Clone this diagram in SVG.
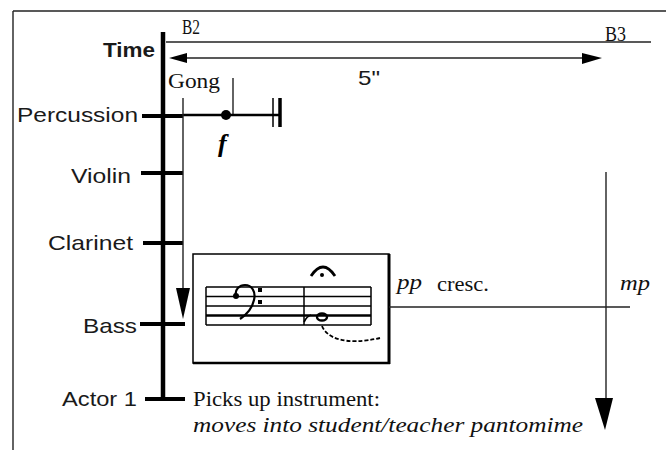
<svg xmlns="http://www.w3.org/2000/svg" width="666" height="450" viewBox="0 0 666 450">
<style>
.lab{font-family:"Liberation Sans",Arial,sans-serif;font-size:21px;fill:#1a1a1a}
.ser{font-family:"Liberation Serif","Times New Roman",serif;font-size:20px;fill:#111}
.it{font-family:"Liberation Serif","Times New Roman",serif;font-style:italic;font-size:20px;fill:#111}
.thin{stroke:#222;stroke-width:1.4;fill:none}
.tick{stroke:#000;stroke-width:4;fill:none}
</style>
<rect width="666" height="450" fill="#fff"/>
<g id="frame">
<line x1="13" y1="11" x2="666" y2="11" stroke="#222" stroke-width="1.4"/>
<line x1="13" y1="11" x2="13" y2="450" stroke="#222" stroke-width="1.4"/>
</g>
<g id="time-axis">
<line x1="163" y1="32" x2="163" y2="401" stroke="#000" stroke-width="4.5"/>
<text class="lab" x="155" y="57" text-anchor="end" font-weight="bold" font-size="20" textLength="52" lengthAdjust="spacingAndGlyphs">Time</text>
</g>
<g id="percussion">
<line class="tick" x1="142" y1="116" x2="183" y2="116"/>
<text class="lab" x="138" y="122" text-anchor="end" textLength="121" lengthAdjust="spacingAndGlyphs">Percussion</text>
</g>
<g id="violin">
<line class="tick" x1="141" y1="173" x2="183" y2="173"/>
<text class="lab" x="131" y="183" text-anchor="end" textLength="60" lengthAdjust="spacingAndGlyphs">Violin</text>
</g>
<g id="clarinet">
<line class="tick" x1="143" y1="243" x2="183" y2="243"/>
<text class="lab" x="133" y="250" text-anchor="end" textLength="85" lengthAdjust="spacingAndGlyphs">Clarinet</text>
</g>
<g id="bass">
<line class="tick" x1="140" y1="324" x2="185" y2="324"/>
<text class="lab" x="137" y="333" text-anchor="end" textLength="54" lengthAdjust="spacingAndGlyphs">Bass</text>
</g>
<g id="actor1">
<line class="tick" x1="145" y1="399" x2="185" y2="399"/>
<text class="lab" x="137" y="406" text-anchor="end" textLength="75" lengthAdjust="spacingAndGlyphs">Actor 1</text>
<text class="ser" x="193" y="406" textLength="187" lengthAdjust="spacingAndGlyphs">Picks up instrument:</text>
<text class="it" x="193" y="432" textLength="390" lengthAdjust="spacingAndGlyphs">moves into student/teacher pantomime</text>
</g>
<g id="markers">
<text class="ser" x="182" y="34" font-size="16" textLength="18" lengthAdjust="spacingAndGlyphs">B2</text>
<text class="ser" x="605" y="41" font-size="18" textLength="21" lengthAdjust="spacingAndGlyphs">B3</text>
<text class="lab" x="358" y="85" font-size="22" textLength="22" lengthAdjust="spacingAndGlyphs">5"</text>
</g>
<g id="gong">
<text class="ser" x="168" y="88" font-size="20" textLength="52" lengthAdjust="spacingAndGlyphs">Gong</text>
<line class="thin" x1="233" y1="78" x2="233" y2="114"/>
<line x1="183" y1="115" x2="280" y2="115" stroke="#000" stroke-width="2.5"/>
<circle cx="226" cy="115" r="5" fill="#000"/>
<line x1="273" y1="98" x2="273" y2="127" stroke="#000" stroke-width="1.5"/>
<line x1="280" y1="98" x2="280" y2="127" stroke="#000" stroke-width="3.5"/>
<text x="218" y="152" font-family="'Liberation Serif','Times New Roman',serif" font-style="italic" font-weight="bold" font-size="26" fill="#000">f</text>
</g>
<g id="bass-excerpt">
<rect x="193" y="254" width="196" height="109" fill="none" stroke="#000" stroke-width="1.5"/>
<line x1="389" y1="254" x2="389" y2="364" stroke="#000" stroke-width="3"/>
<line x1="193" y1="363" x2="390" y2="363" stroke="#000" stroke-width="2.5"/>
<g stroke="#000" stroke-width="1.5">
<line x1="206" y1="287" x2="371" y2="287"/>
<line x1="206" y1="296.5" x2="371" y2="296.5"/>
<line x1="206" y1="306" x2="371" y2="306"/>
<line x1="206" y1="315.5" x2="371" y2="315.5" stroke-width="2.4"/>
<line x1="206" y1="325" x2="371" y2="325"/>
<line x1="206" y1="287" x2="206" y2="325"/>
<line x1="371" y1="287" x2="371" y2="325"/>
<line x1="304" y1="287" x2="304" y2="325"/>
</g>
<path d="M236,297 C234,289 240,285 245,285 C252,285 256,292 254,300 C252,309 246,315 240,319" fill="none" stroke="#000" stroke-width="2.2"/>
<circle cx="236" cy="296" r="3" fill="#000"/>
<rect x="258" y="288" width="4" height="4" fill="#000"/>
<rect x="258" y="300" width="4" height="4" fill="#000"/>
<path d="M311,276 Q323,258 335,276" fill="none" stroke="#000" stroke-width="2.8"/>
<circle cx="322" cy="275" r="2" fill="#000"/>
<ellipse cx="322" cy="317" rx="5" ry="3.5" fill="none" stroke="#000" stroke-width="2.4"/>
<path d="M304,322 Q307,316 311,315" fill="none" stroke="#000" stroke-width="1.8"/>
<path d="M322,326 C327,338 345,346 380,338" fill="none" stroke="#000" stroke-width="1.8" stroke-dasharray="4,2"/>
</g>
<g id="dynamics">
<text class="it" x="397" y="289" textLength="25" lengthAdjust="spacingAndGlyphs">pp</text>
<text class="ser" x="437" y="291" textLength="52" lengthAdjust="spacingAndGlyphs">cresc.</text>
<text class="it" x="620" y="290" textLength="30" lengthAdjust="spacingAndGlyphs">mp</text>
</g>
<g id="connectors">
<line class="thin" x1="166" y1="42" x2="651" y2="42"/>
<line class="thin" x1="180" y1="58" x2="590" y2="58"/>
<polygon points="169,58 187,53 187,63" fill="#000"/>
<polygon points="602,58 582,53 582,64" fill="#000"/>
<line class="thin" x1="183" y1="98" x2="183" y2="292"/>
<polygon points="176,288 190,288 183,319" fill="#000"/>
<line class="thin" x1="389" y1="307" x2="630" y2="307"/>
<line class="thin" x1="606" y1="172" x2="606" y2="400"/>
<polygon points="595,398 613,398 605,430" fill="#000"/>
</g>
</svg>
